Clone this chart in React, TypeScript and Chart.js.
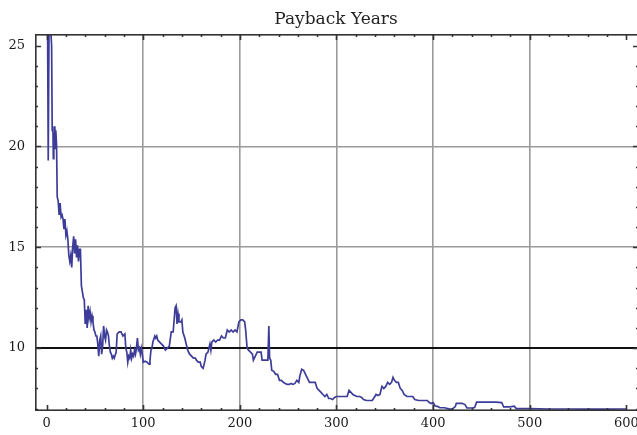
import React, { useEffect, useRef } from 'react';
import { Chart, registerables } from 'chart.js';

Chart.register(...registerables);

const chartTitle = 'Payback Years';

const xValues = [
  0, 1, 1.7, 2.5, 3.5, 4.5, 5.2, 5.8, 6.5, 7, 7.5, 8, 8.5, 9, 9.5, 10.3, 11, 12, 13, 14,
  15, 16, 17, 18, 19, 20, 21, 22, 23, 24, 25, 26, 27, 28, 29, 30, 31, 32, 33, 34,
  35, 36, 37, 38, 39, 40, 41, 42, 43, 44, 45, 46, 47, 48, 49, 50, 51, 52, 53, 54,
  55, 56, 57, 58, 59, 60, 61, 62, 63, 64, 65, 66, 67, 68, 69, 70, 72, 73, 75, 77,
  79, 81, 82, 83, 84, 85, 86, 87, 88, 89, 90, 91, 92, 93, 94, 95, 96, 97, 98, 99,
  100, 102, 104, 106, 107, 108, 109, 110, 112, 113, 114, 115, 117, 119, 121, 123, 125, 127, 129, 131,
  133, 134, 135, 136, 137, 139, 140, 141, 143, 144, 146, 148, 150, 152, 154, 155, 157, 159, 160, 162,
  164, 165, 167, 169, 170, 171, 173, 175, 177, 179, 181, 183, 185, 187, 189, 191, 193, 195, 197, 199,
  201, 203, 205, 206, 207.5, 209, 211, 213, 214, 216, 218, 220, 222, 223, 225, 227, 229, 230, 230.8, 232,
  233, 235, 237, 239, 241, 243, 245, 247, 249, 251, 253, 255, 257, 259, 261, 262, 264, 266, 268, 270,
  272, 275, 278, 280, 282, 284, 286, 288, 290, 292, 294, 296, 298, 300, 303, 306, 309, 311, 313, 315,
  317, 319, 321, 324, 326, 328, 331, 334, 337, 339, 341, 343, 345, 347, 349, 351, 353, 355, 357, 358.5,
  360, 362, 364, 366, 368, 370, 373, 376, 379, 381, 385, 390, 394, 396, 398, 400, 402, 405, 407, 412,
  415, 417, 420, 423, 424, 430, 433, 435, 440, 443, 445, 455, 465, 471, 473, 479, 481, 484, 486, 500,
  520, 540, 560, 580, 600,
];

const yValues = [
  26.5, 26.2, 19.3, 25.8, 26, 25.6, 25.0, 20.8, 21.0, 19.4, 20.7, 20.2, 21.0, 19.9, 20.8, 20.1, 17.5, 17.3, 16.6, 17.2,
  16.5, 16.6, 16.4, 15.9, 16.4, 15.6, 15.8, 15.4, 14.6, 14.3, 14.6, 14.0, 15.0, 15.55, 14.7, 15.4, 14.5, 15.1, 14.3, 14.9,
  14.9, 13.1, 12.8, 12.5, 12.4, 11.2, 11.9, 11.0, 12.1, 11.5, 11.8, 11.3, 11.6, 11.3, 10.9, 10.8, 10.6, 10.6, 10.2, 9.6,
  10.4, 10.6, 9.7, 10.1, 11.1, 10.6, 10.4, 10.9, 10.8, 10.6, 10.1, 9.8, 9.7, 9.5, 9.6, 9.5, 9.8, 10.7, 10.8, 10.8,
  10.6, 10.7, 10.0, 9.8, 9.3, 9.6, 9.5, 9.9, 9.5, 9.7, 9.6, 9.9, 9.7, 10.0, 10.5, 9.9, 10.0, 9.7, 10.0, 9.7,
  9.3, 9.35, 9.3, 9.2, 9.4, 9.9, 10.0, 10.3, 10.6, 10.5, 10.6, 10.4, 10.3, 10.2, 10.1, 9.9, 10.0, 10.1, 10.8, 10.8,
  12.0, 12.1, 11.2, 11.7, 11.3, 11.3, 11.4, 10.8, 10.5, 10.3, 9.9, 9.7, 9.6, 9.5, 9.5, 9.4, 9.3, 9.3, 9.1, 9.0,
  9.4, 9.7, 9.8, 10.2, 9.9, 10.3, 10.4, 10.3, 10.4, 10.4, 10.6, 10.5, 10.5, 10.9, 10.8, 10.9, 10.8, 10.9, 10.8, 11.3,
  11.4, 11.4, 11.3, 10.9, 10.0, 9.9, 9.8, 9.7, 9.4, 9.6, 9.8, 9.8, 9.8, 9.4, 9.4, 9.4, 9.4, 11.1, 9.5, 9.4,
  8.9, 8.85, 8.7, 8.7, 8.4, 8.4, 8.3, 8.25, 8.2, 8.2, 8.25, 8.2, 8.25, 8.4, 8.3, 8.6, 8.95, 8.9, 8.7, 8.5,
  8.3, 8.3, 8.3, 8.0, 7.9, 7.8, 7.7, 7.6, 7.7, 7.5, 7.5, 7.45, 7.55, 7.6, 7.6, 7.6, 7.6, 7.6, 7.9, 7.8,
  7.7, 7.65, 7.6, 7.6, 7.55, 7.45, 7.4, 7.4, 7.4, 7.55, 7.7, 7.65, 7.7, 8.1, 8.0, 8.1, 8.3, 8.2, 8.3, 8.55,
  8.4, 8.3, 8.3, 8.0, 7.9, 7.7, 7.6, 7.6, 7.6, 7.45, 7.4, 7.4, 7.4, 7.3, 7.25, 7.3, 7.14, 7.1, 7.04, 7.04,
  7.0, 6.97, 6.98, 7.1, 7.26, 7.26, 7.2, 7.03, 7.03, 7.05, 7.32, 7.32, 7.32, 7.3, 7.08, 7.08, 7.1, 7.12, 7.0, 7.0,
  6.98, 6.98, 6.97, 6.97, 6.98,
];

const xMajorTicks = [0, 100, 200, 300, 400, 500, 600];
const xGridLines = [100, 200, 300, 400, 500];
const yGridLines = [15, 20];
const yReferenceLine = 10;
const xMin = -12;
const xMax = 611;
const yMin = 6.88;
const yMax = 25.58;

const framePlugin = {
  id: 'mmaFrame',
  afterDatasetsDraw(chart: any) {
    const { ctx, chartArea: a, scales } = chart;
    const xs = scales.x;
    const ys = scales.y;
    const right = a.right + 2;
    ctx.save();
    ctx.strokeStyle = '#333333';
    ctx.lineWidth = 1.6;
    ctx.strokeRect(a.left + 0.8, a.top + 0.8, right - a.left, a.bottom - a.top - 1.6);
    ctx.beginPath();
    for (let v = 0; v <= 600; v += 20) {
      const px = Math.round(xs.getPixelForValue(v)) + 0.5;
      const len = v % 100 === 0 ? 6 : 3;
      ctx.moveTo(px, a.bottom); ctx.lineTo(px, a.bottom - len);
      ctx.moveTo(px, a.top); ctx.lineTo(px, a.top + len);
    }
    for (let v = 7; v <= 25; v += 1) {
      const py = Math.round(ys.getPixelForValue(v)) + 0.5;
      const len = v % 5 === 0 ? 6 : 3;
      ctx.moveTo(a.left, py); ctx.lineTo(a.left + len, py);
      ctx.moveTo(right, py); ctx.lineTo(right - len, py);
    }
    ctx.stroke();
    ctx.restore();
  },
};

export default function App() {
  const canvasRef = useRef<HTMLCanvasElement | null>(null);

  useEffect(() => {
    if (!canvasRef.current) return;
    const points = xValues.map((x, i) => ({ x, y: yValues[i] }));
    const chart = new Chart(canvasRef.current, {
      type: 'line',
      data: {
        datasets: [
          {
            label: chartTitle,
            data: points,
            borderColor: '#3d3d99',
            backgroundColor: '#3d3d99',
            borderWidth: 1.7,
            pointRadius: 0,
            tension: 0,
            fill: false,
          },
        ],
      },
      options: {
        animation: false,
        responsive: true,
        maintainAspectRatio: false,
        layout: { padding: 0 },
        plugins: {
          legend: { display: false },
          tooltip: { enabled: false },
          title: {
            display: true,
            fullSize: false,
            text: chartTitle,
            color: '#222222',
            font: { family: 'DejaVu Serif', size: 17, weight: 'normal' },
            padding: { top: 9, bottom: 4.6 },
          },
        },
        scales: {
          x: {
            type: 'linear',
            min: xMin,
            max: xMax,
            afterFit: (s: any) => {
              s.height = 24;
              s.paddingRight = 0;
              s.paddingLeft = 0;
            },
            afterBuildTicks: (s: any) => { s.ticks = xMajorTicks.map((v) => ({ value: v })); },
            ticks: {
              stepSize: 100,
              includeBounds: false,
              autoSkip: false,
              maxRotation: 0,
              padding: 5,
              color: '#1a1a1a',
              font: { family: 'DejaVu Serif', size: 13 },
            },
            grid: {
              drawTicks: false,
              color: (c: any) => (xGridLines.includes(c.tick?.value) ? '#9a9a9a' : 'rgba(0,0,0,0)'),
              lineWidth: 1.6,
            },
            border: { display: false },
          },
          y: {
            type: 'linear',
            min: yMin,
            max: yMax,
            afterFit: (s: any) => { s.width = 35; },
            ticks: {
              stepSize: 5,
              includeBounds: false,
              padding: 10,
              color: '#1a1a1a',
              font: { family: 'DejaVu Serif', size: 13 },
            },
            grid: {
              drawTicks: false,
              color: (c: any) => {
                const v = c.tick?.value;
                if (v === yReferenceLine) return '#111111';
                return yGridLines.includes(v) ? '#9a9a9a' : 'rgba(0,0,0,0)';
              },
              lineWidth: (c: any) => (c.tick?.value === yReferenceLine ? 2 : 1.6),
            },
            border: { display: false },
          },
        },
      },
      plugins: [framePlugin],
    });
    return () => chart.destroy();
  }, []);

  return (
    <div style={{ position: 'fixed', left: 0, top: 0, width: 637, height: 435, background: '#ffffff' }}>
      <canvas ref={canvasRef} />
    </div>
  );
}
